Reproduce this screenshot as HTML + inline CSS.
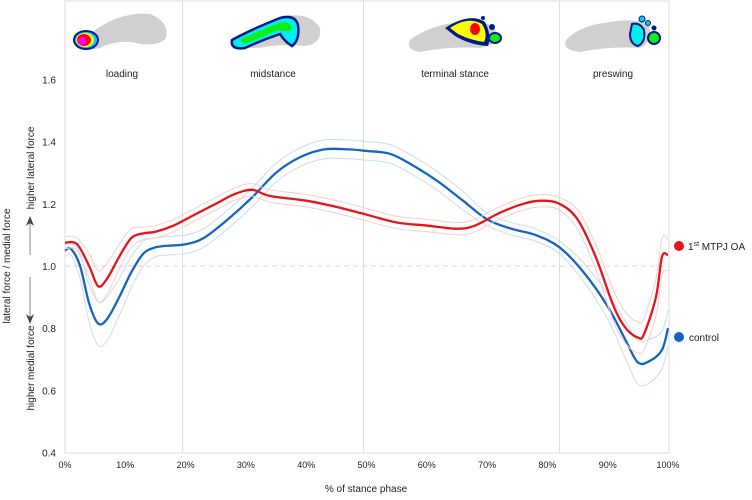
<!DOCTYPE html>
<html><head><meta charset="utf-8"><style>
body{margin:0;background:#fff;font-family:"Liberation Sans",Arial,sans-serif}
svg text{font-family:"Liberation Sans",Arial,sans-serif;fill:#222}
</style></head><body>
<svg id="c" width="752" height="495" viewBox="0 0 752 495">
<rect x="65" y="1" width="604" height="452" fill="none" stroke="#ddd"/>
<g id="grid"></g>
<line x1="65" y1="266" x2="669" y2="266" stroke="#f3c8c8" stroke-dasharray="5,4"/>
<g id="feet">
 <g><path d="M78 45 Q90 32 108 22 Q130 12 150 14 Q170 22 166 38 Q160 46 140 44 Q120 38 100 48 Q85 52 78 45Z" fill="#d0d0d0"/><ellipse cx="86" cy="40" rx="13" ry="10" fill="#001a8a"/><ellipse cx="86" cy="40" rx="11" ry="8" fill="#0cf"/><ellipse cx="85" cy="40" rx="9" ry="7" fill="#ff0"/><ellipse cx="84" cy="40" rx="7" ry="6" fill="#f00"/><circle cx="82" cy="41" r="4" fill="#f0f"/></g>
 <g><path d="M230 40 Q260 25 285 16 Q310 12 320 28 Q322 44 305 46 Q290 44 270 46 Q245 52 230 40Z" fill="#d0d0d0"/><path d="M232 40 Q250 30 280 18 Q295 14 298 25 Q300 40 292 46 Q285 42 280 34 Q262 40 245 48 Q230 50 232 40Z" fill="#0ee" stroke="#001a8a" stroke-width="2.5"/><path d="M240 40 Q260 30 282 22 Q292 22 292 30 Q285 32 278 30 Q260 38 245 44Z" fill="#1e1"/></g>
 <g><path d="M410 40 Q430 25 460 22 Q485 20 495 28 Q500 45 480 48 Q450 46 420 52 Q405 50 410 40Z" fill="#d0d0d0"/><path d="M445 28 Q470 12 485 22 Q492 35 488 46 Q470 45 455 36Z" fill="#001a8a"/><path d="M450 28 Q468 16 482 24 Q488 34 484 42 Q470 40 458 34Z" fill="#ff0"/><ellipse cx="475" cy="29" rx="5" ry="6" fill="#f00"/><ellipse cx="495" cy="38" rx="6" ry="5" fill="#1e1" stroke="#001a8a" stroke-width="2"/><circle cx="492" cy="27" r="3" fill="#001a8a"/><circle cx="483" cy="18" r="2" fill="#001a8a"/></g>
 <g><path d="M566 40 Q580 25 610 22 Q635 18 648 24 Q655 40 640 48 Q610 46 580 52 Q562 50 566 40Z" fill="#d0d0d0"/><path d="M632 24 Q640 22 644 30 Q646 42 638 46 Q630 44 630 34Z" fill="#0ee" stroke="#001a8a" stroke-width="2"/><ellipse cx="654" cy="38" rx="6" ry="6" fill="#1e1" stroke="#001a8a" stroke-width="2"/><circle cx="642" cy="19" r="3" fill="#0cf" stroke="#001a8a"/><circle cx="648" cy="23" r="2.5" fill="#0cf" stroke="#001a8a"/><circle cx="654" cy="28" r="2.5" fill="#001a8a"/></g>
</g>
<text x="122" y="77" font-size="10" text-anchor="middle">loading</text>
<text x="273" y="77" font-size="10" text-anchor="middle">midstance</text>
<text x="455" y="77" font-size="10" text-anchor="middle">terminal stance</text>
<text x="613" y="77" font-size="10" text-anchor="middle">preswing</text>
<g id="yt"></g><g id="xt"></g><g id="series"></g>
<text x="366" y="492" font-size="10" text-anchor="middle">% of stance phase</text>
<text transform="translate(10,266) rotate(-90)" font-size="10" text-anchor="middle">lateral force / medial force</text>
<text transform="translate(34,168) rotate(-90)" font-size="10" text-anchor="middle">higher lateral force</text>
<text transform="translate(34,368) rotate(-90)" font-size="10" text-anchor="middle">higher medial force</text>
<g><line x1="30" y1="222" x2="30" y2="255" stroke="#888"/><path d="M26 226 L30 216 L34 226 L30 223Z" fill="#444"/></g>
<g><line x1="30" y1="277" x2="30" y2="318" stroke="#888"/><path d="M26 314 L30 324 L34 314 L30 317Z" fill="#444"/></g>
<g><circle cx="679" cy="246" r="5" fill="#e8141b"/><text x="688" y="250" font-size="10">1<tspan font-size="7" dy="-4">st</tspan><tspan dy="4"> MTPJ OA</tspan></text></g>
<g><circle cx="679" cy="337" r="5" fill="#1565c0"/><text x="689" y="341" font-size="10">control</text></g>
</svg>
<script>
const xCats=[0,10,20,30,40,50,60,70,80,90,100];
const yTicks=[0.4,0.6,0.8,1.0,1.2,1.4,1.6];
const phaseBounds=[19.5,49.5,82];
const oaPct=[0,2,4,5.5,7,9,11,13,15,18,21,25,28,31,34,40,45,50,55,60,65,68,72,76,79,82,85,88,91,93,95,96,98,99,100];
const oaVal=[1.075,1.07,1.0,0.935,0.96,1.03,1.09,1.105,1.11,1.13,1.16,1.2,1.23,1.245,1.225,1.21,1.19,1.165,1.14,1.13,1.12,1.13,1.17,1.2,1.21,1.2,1.15,1.03,0.87,0.8,0.77,0.78,0.9,1.03,1.035];
const oaSd=[0.02,0.02,0.04,0.05,0.05,0.04,0.03,0.02,0.02,0.02,0.02,0.02,0.02,0.02,0.02,0.02,0.02,0.02,0.02,0.02,0.02,0.02,0.02,0.02,0.02,0.02,0.03,0.04,0.05,0.05,0.05,0.05,0.06,0.06,0.05];
const ctPct=[0,1,2.5,4,5.5,7,9,11,13,15,17,20,23,27,31,35,39,43,47,50,54,58,62,66,70,74,78,82,86,90,93,95,97,99,100];
const ctVal=[1.05,1.055,1.0,0.88,0.815,0.83,0.9,0.98,1.04,1.06,1.065,1.07,1.09,1.15,1.22,1.3,1.35,1.375,1.375,1.37,1.36,1.32,1.27,1.21,1.15,1.12,1.1,1.06,0.98,0.87,0.76,0.69,0.695,0.73,0.8];
const ctSd=[0.02,0.02,0.04,0.06,0.07,0.07,0.06,0.05,0.04,0.03,0.03,0.03,0.03,0.03,0.03,0.03,0.03,0.03,0.03,0.03,0.03,0.03,0.03,0.03,0.02,0.02,0.02,0.02,0.03,0.04,0.06,0.07,0.07,0.06,0.06];
const NS='http://www.w3.org/2000/svg';
const X=p=>65+p*6.03, Y=v=>266-(v-1)*311;
function mk(t,a,par){const e=document.createElementNS(NS,t);for(const k in a)e.setAttribute(k,a[k]);document.getElementById(par).appendChild(e);return e;}
function path(px,vs){const pts=px.map((p,i)=>[X(p),Y(vs[i])]);let d='M'+pts[0][0]+' '+pts[0][1];
for(let i=0;i<pts.length-1;i++){const p0=pts[Math.max(0,i-1)],p1=pts[i],p2=pts[i+1],p3=pts[Math.min(pts.length-1,i+2)];
d+=` C${p1[0]+(p2[0]-p0[0])/6} ${p1[1]+(p2[1]-p0[1])/6} ${p2[0]-(p3[0]-p1[0])/6} ${p2[1]-(p3[1]-p1[1])/6} ${p2[0]} ${p2[1]}`;}return d;}
phaseBounds.forEach((b,i)=>{const l=mk('line',{x1:X(b),x2:X(b),y1:1,y2:453,stroke:'#ddd'},'grid');

});
yTicks.forEach(v=>{const t=mk('text',{x:56,y:Y(v)+4,'font-size':10,'text-anchor':'end'},'yt');t.textContent=v.toFixed(1);

});
xCats.forEach(p=>{const t=mk('text',{x:X(p),y:468,'font-size':9,'text-anchor':'middle'},'xt');t.textContent=p+'%';

});
function series(px,vs,sd,col,band,name){
[1,-1].forEach(s=>{const b=mk('path',{d:path(px,vs.map((v,i)=>v+s*sd[i])),fill:'none',stroke:band,'stroke-width':1},'series');

});
const l=mk('path',{d:path(px,vs),fill:'none',stroke:col,'stroke-width':2.3},'series');

}
series(ctPct,ctVal,ctSd,'#1565c0','#c8dcf0','control');
series(oaPct,oaVal,oaSd,'#e8141b','#f8cccc','mtpj-oa');
</script>
</body></html>
